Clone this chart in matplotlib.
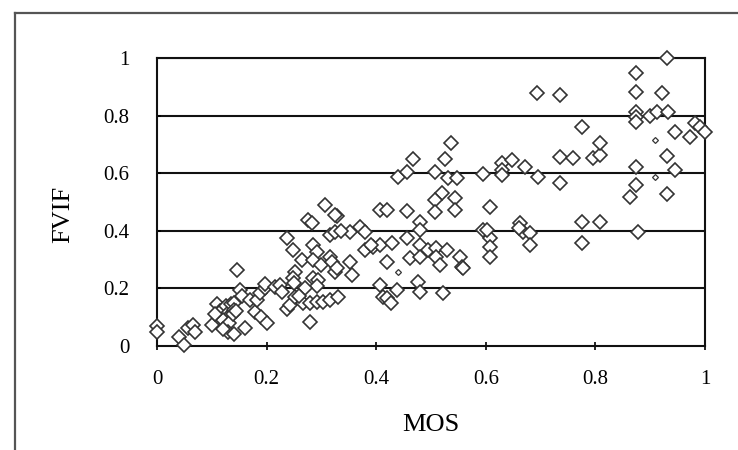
import matplotlib.pyplot as plt
from matplotlib.lines import Line2D

# MOS vs FVIF
mos = [0.0, 0.0, 0.04, 0.05, 0.057, 0.066, 0.069, 0.1,
       0.11, 0.115, 0.12, 0.125, 0.128, 0.13, 0.12, 0.135, 0.14, 0.14, 0.132, 0.13,
       0.14, 0.138, 0.145, 0.16, 0.146, 0.151, 0.155, 0.17, 0.179, 0.19, 0.2, 0.182,
       0.188, 0.197, 0.197, 0.12, 0.105,
       0.215, 0.224, 0.228, 0.237, 0.237, 0.243, 0.248, 0.264, 0.252, 0.248, 0.25,
       0.252, 0.266, 0.28, 0.292, 0.303, 0.316, 0.28, 0.275, 0.283, 0.307, 0.285,
       0.292, 0.285, 0.3, 0.285, 0.294, 0.292, 0.316, 0.325, 0.328, 0.316, 0.32,
       0.325, 0.33, 0.325, 0.352, 0.37, 0.38, 0.352, 0.328, 0.356, 0.27, 0.26, 0.335,
       0.38, 0.394, 0.407, 0.429, 0.407, 0.42, 0.456, 0.44, 0.456, 0.467, 0.48, 0.48,
       0.456, 0.48, 0.495, 0.51, 0.53, 0.51, 0.462, 0.48, 0.42, 0.516, 0.553, 0.556,
       0.558, 0.412, 0.42, 0.427, 0.438, 0.476, 0.48, 0.522, 0.526, 0.507,
       0.531, 0.547, 0.537, 0.52, 0.507, 0.507, 0.544, 0.544, 0.39, 0.407,
       0.595, 0.63, 0.648, 0.63, 0.63, 0.608, 0.595, 0.608, 0.608, 0.608, 0.603,
       0.662, 0.668, 0.68, 0.68, 0.672, 0.695, 0.66,
       0.693, 0.735, 0.735, 0.759, 0.735, 0.775, 0.775, 0.808, 0.775, 0.796, 0.808,
       0.808, 0.874, 0.874, 0.874, 0.874, 0.874, 0.874, 0.874, 0.863, 0.878, 0.9,
       0.912, 0.932, 0.921, 0.93, 0.945, 0.972, 0.982, 0.99, 1.0, 0.93, 0.945, 0.93]
fvif = [0.07, 0.05, 0.03, 0.005, 0.063, 0.073, 0.05, 0.073,
        0.145, 0.12, 0.13, 0.14, 0.11, 0.1, 0.09, 0.145, 0.15, 0.125, 0.08, 0.05,
        0.04, 0.11, 0.12, 0.063, 0.264, 0.194, 0.175, 0.16, 0.118, 0.1, 0.08, 0.16,
        0.184, 0.2, 0.215, 0.06, 0.11,
        0.205, 0.212, 0.188, 0.375, 0.13, 0.142, 0.333, 0.299, 0.257, 0.236, 0.22,
        0.17, 0.149, 0.149, 0.153, 0.153, 0.16, 0.083, 0.437, 0.427, 0.49, 0.35,
        0.326, 0.3, 0.28, 0.236, 0.23, 0.21, 0.385, 0.396, 0.45, 0.31, 0.292,
        0.257, 0.17, 0.455, 0.396, 0.413, 0.396, 0.292, 0.27, 0.246, 0.2, 0.175, 0.4,
        0.333, 0.344, 0.35, 0.358, 0.472, 0.472, 0.469, 0.587, 0.604, 0.649, 0.43, 0.403,
        0.375, 0.35, 0.333, 0.34, 0.333, 0.31, 0.306, 0.31, 0.292, 0.28, 0.309, 0.274,
        0.27, 0.17, 0.167, 0.15, 0.194, 0.222, 0.188, 0.184, 0.649, 0.604,
        0.583, 0.583, 0.704, 0.53, 0.507, 0.465, 0.514, 0.472, 0.35, 0.212,
        0.597, 0.635, 0.646, 0.61, 0.594, 0.483, 0.403, 0.375, 0.344, 0.309, 0.404,
        0.427, 0.396, 0.392, 0.35, 0.622, 0.587, 0.41,
        0.878, 0.872, 0.656, 0.653, 0.566, 0.76, 0.431, 0.431, 0.357, 0.653, 0.663,
        0.705, 0.948, 0.882, 0.813, 0.795, 0.778, 0.622, 0.559, 0.517, 0.396, 0.8,
        0.813, 0.813, 0.878, 1.0, 0.743, 0.726, 0.774, 0.76, 0.743, 0.66, 0.611, 0.528]

# a couple of tiny markers
mos_small = [0.909, 0.909, 0.44]
fvif_small = [0.587, 0.715, 0.257]

ticks = [0, 0.2, 0.4, 0.6, 0.8, 1]
tick_labels = ['0', '0.2', '0.4', '0.6', '0.8', '1']

plt.rcParams['font.family'] = ['Liberation Serif', 'DejaVu Serif']

fig = plt.figure(figsize=(7.38, 4.5), dpi=100)
ax = fig.add_axes([157 / 738, 1 - 346 / 450, 548 / 738, 288 / 450])

for yv in ticks[1:]:
    ax.axhline(yv, color='#111111', lw=1.5, zorder=1)

ax.plot(mos, fvif, linestyle='none', marker='D', markersize=7,
        markerfacecolor='white', markeredgecolor='#333333', markeredgewidth=1.2,
        clip_on=False, zorder=3)
ax.plot(mos_small, fvif_small, linestyle='none', marker='D', markersize=3,
        markerfacecolor='white', markeredgecolor='#333333', markeredgewidth=0.9,
        clip_on=False, zorder=3)

ax.set_xlim(0, 1)
ax.set_ylim(0, 1)
ax.set_xticks(ticks)
ax.set_xticklabels(tick_labels)
ax.set_yticks(ticks)
ax.set_yticklabels(tick_labels)
ax.tick_params(axis='x', direction='inout', length=6, width=1.2, pad=14, labelsize=15)
ax.tick_params(axis='y', direction='in', length=3, width=1.2, pad=20, labelsize=15)
for s in ax.spines.values():
    s.set_linewidth(1.5)
    s.set_color('#111111')

ax.set_xlabel('MOS', fontsize=19, labelpad=18)
fig.text(63 / 738, 1 - 214 / 450, 'FVIF', fontsize=19, rotation=90,
         ha='center', va='center')

# outer frame, cut off at the right and bottom edges
fig.add_artist(Line2D([15 / 738, 1.0], [1 - 13 / 450, 1 - 13 / 450],
                      color='#555555', lw=1.6, transform=fig.transFigure))
fig.add_artist(Line2D([15 / 738, 15 / 738], [1 - 13 / 450, 0.0],
                      color='#555555', lw=1.6, transform=fig.transFigure))

fig.savefig('out.png', dpi=100)
